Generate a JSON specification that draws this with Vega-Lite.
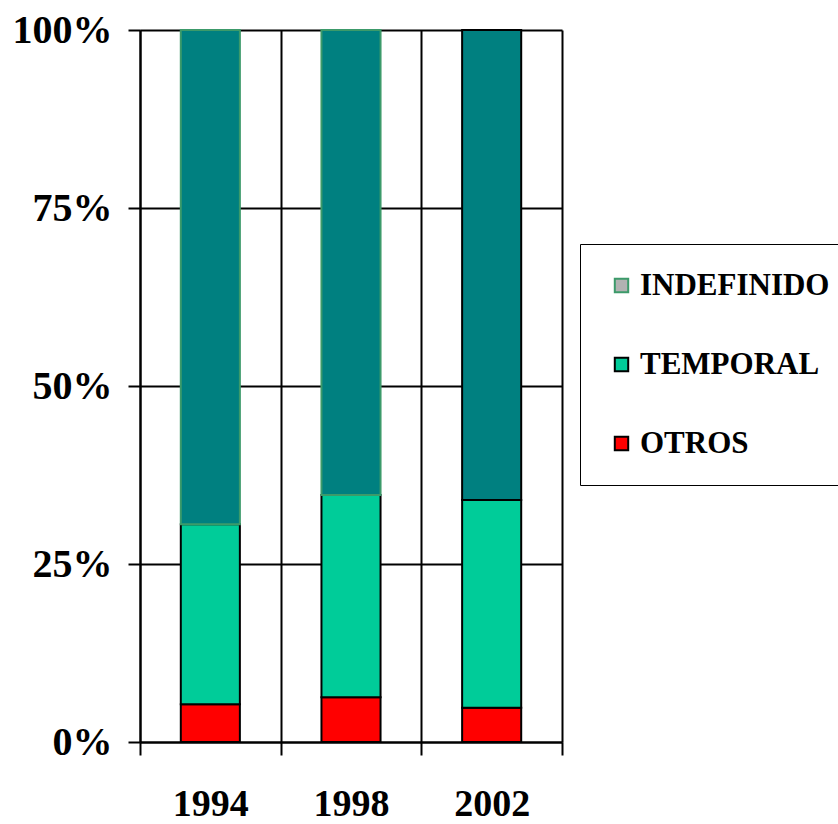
{
  "$schema": "https://vega.github.io/schema/vega-lite/v6.json",
  "autosize": {"type": "none"},
  "padding": {"left": 140, "top": 30, "right": 276, "bottom": 82},
  "width": 422,
  "height": 712,
  "background": "white",
  "config": {
    "view": {"stroke": null, "fill": "white"},
    "font": "Liberation Serif"
  },
  "data": {
    "values": [
      {"year": "1994", "serie": "OTROS", "ord": 1, "value": 5.3},
      {"year": "1994", "serie": "TEMPORAL", "ord": 2, "value": 25.3},
      {"year": "1994", "serie": "INDEFINIDO", "ord": 3, "value": 69.4},
      {"year": "1998", "serie": "OTROS", "ord": 1, "value": 6.3},
      {"year": "1998", "serie": "TEMPORAL", "ord": 2, "value": 28.4},
      {"year": "1998", "serie": "INDEFINIDO", "ord": 3, "value": 65.3},
      {"year": "2002", "serie": "OTROS", "ord": 1, "value": 4.8},
      {"year": "2002", "serie": "TEMPORAL", "ord": 2, "value": 29.2},
      {"year": "2002", "serie": "INDEFINIDO", "ord": 3, "value": 66.0}
    ]
  },
  "mark": {"type": "bar", "width": {"band": 0.42}, "strokeWidth": 2},
  "encoding": {
    "x": {
      "field": "year", "type": "ordinal", "title": null,
      "scale": {"paddingInner": 0, "paddingOuter": 0},
      "axis": {
        "labelAngle": 0, "labelFontSize": 38, "labelFontWeight": "bold", "labelColor": "black",
        "labelPadding": 30, "tickBand": "extent", "grid": true, "gridColor": "black", "gridWidth": 2,
        "gridOpacity": 1, "domainColor": "black", "domainWidth": 2, "tickColor": "black",
        "tickWidth": 2, "tickSize": 13
      }
    },
    "y": {
      "field": "value", "type": "quantitative", "stack": "normalize", "title": null,
      "scale": {"domain": [0, 1], "nice": false},
      "axis": {
        "values": [0, 0.25, 0.5, 0.75, 1], "format": ".0%",
        "labelFontSize": 40, "labelFontWeight": "bold", "labelColor": "black", "labelPadding": 16,
        "grid": true, "gridColor": "black", "gridWidth": 2, "gridOpacity": 1,
        "domainColor": "black", "domainWidth": 2, "tickColor": "black", "tickWidth": 2, "tickSize": 12
      }
    },
    "color": {
      "condition": {"test": "datum.serie === 'INDEFINIDO'", "value": "#008080"},
      "field": "serie", "type": "nominal",
      "scale": {"domain": ["INDEFINIDO", "TEMPORAL", "OTROS"], "range": ["#b2b2b2", "#00CC99", "#FF0000"]},
      "legend": {
        "title": null, "orient": "none", "legendX": 440, "legendY": 214,
        "direction": "vertical",
        "labelFontSize": 31, "labelFontWeight": "bold", "labelColor": "black", "labelLimit": 400,
        "symbolType": "square", "symbolSize": 180, "symbolStrokeWidth": 2,
        "rowPadding": 47, "labelOffset": 3, "padding": 26,
        "strokeColor": "black", "fillColor": "white",
        "encode": {
          "legend": {"update": {"strokeWidth": {"value": 2}}},
          "symbols": {"update": {"opacity": {"value": 1}}}
        }
      }
    },
    "stroke": {
      "condition": {"test": "datum.year === '2002'", "value": "black"},
      "field": "serie", "type": "nominal",
      "scale": {"domain": ["INDEFINIDO", "TEMPORAL", "OTROS"], "range": ["#3c9a6a", "black", "black"]}
    },
    "order": {"field": "ord", "type": "quantitative"}
  }
}
